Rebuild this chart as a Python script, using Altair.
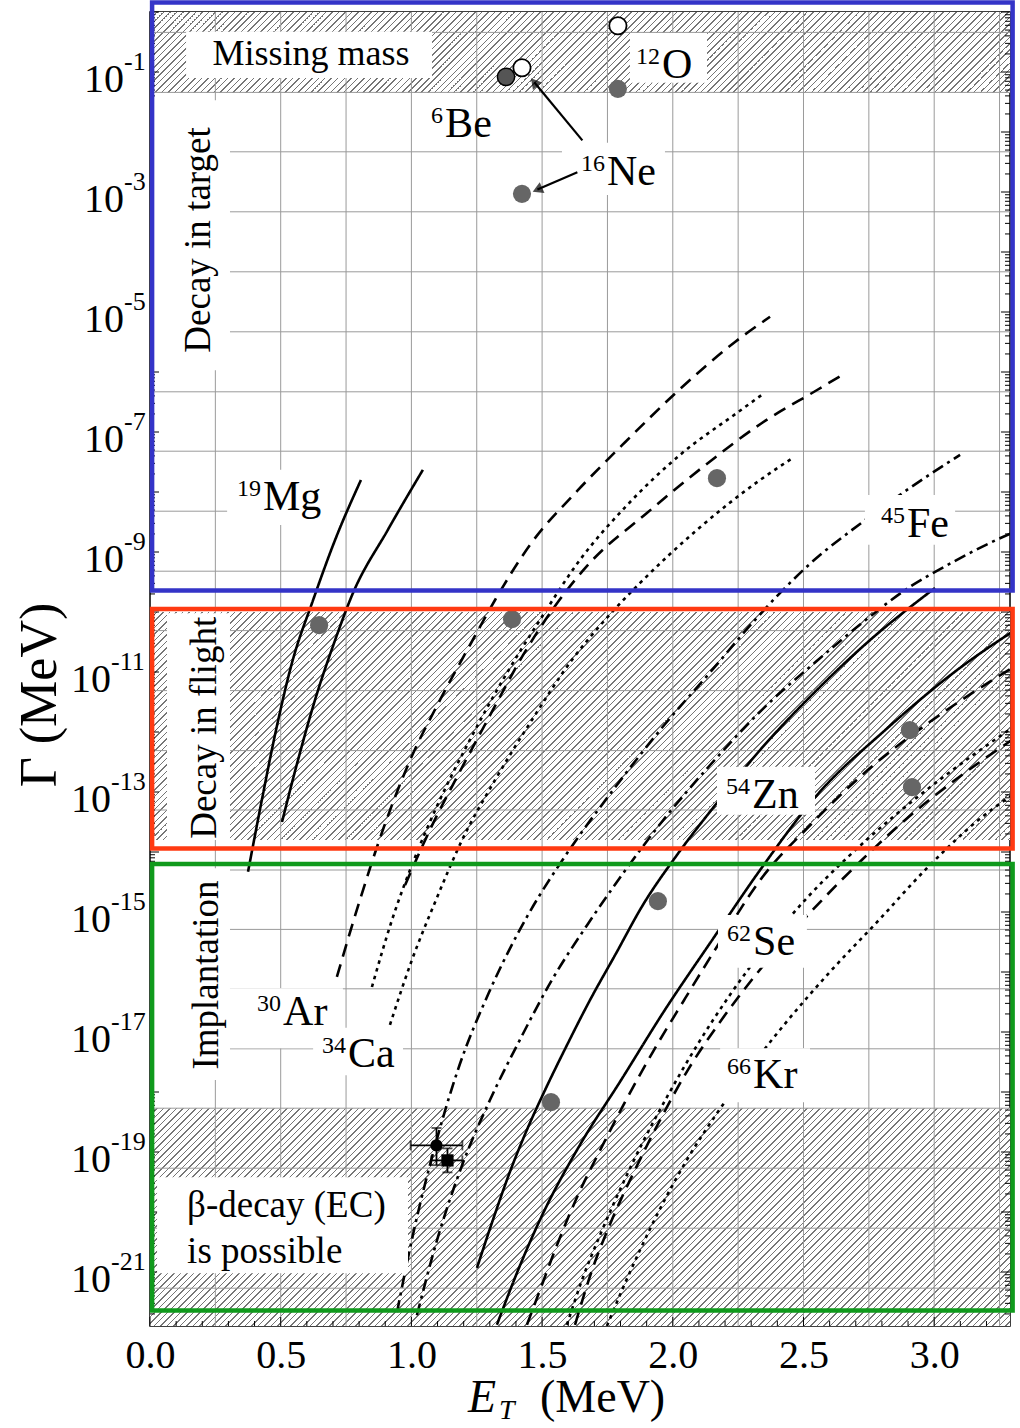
import math
import altair as alt
import pandas as pd

# ---- axis extents -------------------------------------------------------
E_MIN, E_MAX = 0.0, 3.29          # E_T in MeV
LG_MIN, LG_MAX = -21.9, 0.0       # log10 of Gamma in MeV
W, H = 860, 1314
SERIF = "Liberation Serif"


def gamma(lg):
    """log10(Gamma) -> Gamma in MeV"""
    return 10.0 ** lg


# ---- calculated widths (E_T in MeV, log10 Gamma) -----------------------
MG19_A_E = [0.375, 0.428, 0.482, 0.543, 0.624, 0.708, 0.807]
MG19_A_LG = [-14.33, -13.13, -11.97, -10.85, -9.80, -8.80, -7.80]
MG19_B_E = [0.505, 0.566, 0.631, 0.708, 0.773, 0.910, 1.044]
MG19_B_LG = [-13.50, -12.47, -11.47, -10.47, -9.72, -8.63, -7.63]

AR30_A_E = [0.715, 0.803, 0.891, 0.995, 1.109, 1.224, 1.320, 1.454, 1.637, 1.806, 2.016, 2.238, 2.372]
AR30_A_LG = [-16.08, -14.80, -13.63, -12.47, -11.47, -10.55, -9.80, -8.88, -7.97, -7.22, -6.33, -5.50, -5.08]
AR30_B_E = [0.976, 1.071, 1.178, 1.301, 1.427, 1.553, 1.683, 1.901, 2.116, 2.341, 2.552, 2.659]
AR30_B_LG = [-14.55, -13.63, -12.72, -11.72, -10.72, -9.88, -9.18, -8.35, -7.58, -6.85, -6.30, -6.02]

CA34_A_E = [0.849, 0.926, 1.010, 1.109, 1.224, 1.350, 1.492, 1.645, 1.825, 2.028, 2.246, 2.341]
CA34_A_LG = [-16.25, -15.13, -14.13, -13.13, -12.13, -11.13, -10.13, -9.13, -8.22, -7.38, -6.68, -6.38]
CA34_B_E = [0.918, 1.002, 1.094, 1.194, 1.320, 1.461, 1.614, 1.741, 1.874, 2.093, 2.334, 2.460]
CA34_B_LG = [-16.88, -15.80, -14.80, -13.80, -12.80, -11.80, -10.80, -10.13, -9.52, -8.63, -7.80, -7.43]

FE45_A_E = [0.945, 1.010, 1.086, 1.178, 1.301, 1.446, 1.591, 1.771, 1.951, 2.150, 2.315, 2.422,
            2.529, 2.720, 2.911, 3.099]
FE45_A_LG = [-21.67, -20.30, -18.97, -17.63, -16.30, -15.05, -14.05, -12.97, -11.97, -10.97, -10.13, -9.63,
             -9.18, -8.52, -7.92, -7.38]
FE45_B_E = [1.021, 1.098, 1.194, 1.301, 1.415, 1.538, 1.672, 1.806, 1.963, 2.143, 2.341, 2.555,
            2.739, 2.907, 3.037, 3.213, 3.298]
FE45_B_LG = [-21.72, -20.47, -19.22, -18.13, -17.13, -16.13, -15.22, -14.38, -13.47, -12.55, -11.63, -10.80,
             -10.13, -9.58, -9.25, -8.85, -8.68]

ZN54_A_E = [1.251, 1.312, 1.377, 1.442, 1.511, 1.595, 1.683, 1.779, 1.886, 2.016, 2.162, 2.334,
            2.533, 2.754, 3.003]
ZN54_A_LG = [-20.93, -20.13, -19.33, -18.63, -17.97, -17.22, -16.47, -15.72, -14.88, -14.05, -13.22, -12.30,
             -11.38, -10.47, -9.60]
ZN54_B_E = [1.327, 1.408, 1.492, 1.645, 1.798, 1.970, 2.150, 2.334, 2.552, 2.812, 3.099, 3.298]
ZN54_B_LG = [-21.88, -20.97, -20.13, -18.88, -17.83, -16.63, -15.47, -14.30, -13.05, -11.97, -10.93, -10.33]

SE62_A_E = [1.442, 1.492, 1.557, 1.637, 1.722, 1.817, 1.924, 2.043, 2.173, 2.334, 2.533, 2.747,
            2.984, 3.298]
SE62_A_LG = [-21.88, -21.30, -20.55, -19.72, -18.97, -18.17, -17.33, -16.47, -15.55, -14.47, -13.52, -12.63,
             -11.83, -10.93]
SE62_B_E = [1.626, 1.691, 1.767, 1.855, 1.951, 2.058, 2.173, 2.295, 2.429, 2.571, 2.724, 2.888,
            3.080, 3.298]
SE62_B_LG = [-21.88, -20.97, -20.13, -19.30, -18.47, -17.63, -16.88, -16.17, -15.47, -14.80, -14.13, -13.47,
             -12.80, -12.13]

KR66_A_E = [1.595, 1.653, 1.722, 1.798, 1.886, 1.982, 2.093, 2.219, 2.360, 2.506, 2.666, 2.839,
            3.041, 3.298]
KR66_A_LG = [-21.88, -21.13, -20.38, -19.63, -18.83, -18.05, -17.22, -16.38, -15.55, -14.80, -14.10, -13.43,
             -12.73, -11.93]
KR66_B_E = [1.748, 1.806, 1.875, 1.959, 2.054, 2.165, 2.295, 2.441, 2.601, 2.781, 2.972, 3.168, 3.298]
KR66_B_LG = [-21.90, -21.30, -20.63, -19.88, -19.13, -18.38, -17.60, -16.80, -16.00, -15.17, -14.27, -13.47,
             -13.05]

CURVES = [
    ("19Mg a", "solid", MG19_A_E, MG19_A_LG), ("19Mg b", "solid", MG19_B_E, MG19_B_LG),
    ("30Ar a", "dash", AR30_A_E, AR30_A_LG), ("30Ar b", "dash", AR30_B_E, AR30_B_LG),
    ("34Ca a", "dot", CA34_A_E, CA34_A_LG), ("34Ca b", "dot", CA34_B_E, CA34_B_LG),
    ("45Fe a", "dashdot", FE45_A_E, FE45_A_LG), ("45Fe b", "dashdot", FE45_B_E, FE45_B_LG),
    ("54Zn a", "solid", ZN54_A_E, ZN54_A_LG), ("54Zn b", "solid", ZN54_B_E, ZN54_B_LG),
    ("62Se a", "dash", SE62_A_E, SE62_A_LG), ("62Se b", "dash", SE62_B_E, SE62_B_LG),
    ("66Kr a", "dot", KR66_A_E, KR66_A_LG), ("66Kr b", "dot", KR66_B_E, KR66_B_LG),
]
DASHES = {"solid": [1, 0], "dash": [13, 8], "dot": [3.5, 4.5], "dashdot": [12, 5, 3, 5]}

# ---- measured widths ----------------------------------------------------
GRAY_E = [1.790, 1.423, 2.169, 0.647, 1.385, 2.907, 2.915, 1.943, 1.534]
GRAY_LG = [-1.28, -3.03, -7.77, -10.22, -10.12, -11.97, -12.92, -14.82, -18.17]
OPEN_E = [1.423, 1.790]
OPEN_LG = [-0.93, -0.23]
BE6_E = [1.362]
BE6_LG = [-1.08]
# points with error bars
ERR_E = [1.096, 1.138]
ERR_E_LO = [0.997, 1.076]
ERR_E_HI = [1.195, 1.195]
ERR_LG = [-18.89, -19.14]
ERR_LG_LO = [-19.22, -19.34]
ERR_LG_HI = [-18.60, -18.94]

# ---- regions ------------------------------------------------------------
HATCH_LO = [-1.35, -13.80, LG_MIN]
HATCH_HI = [LG_MAX, -10.00, -18.27]
FRAME_COLORS = ["#3434c8", "#ff3a12", "#109a1c"]
FRAME_E = [0.008, 3.300]
FRAME_LG_TOP = [0.16, -9.95, -14.20]
FRAME_LG_BOT = [-9.64, -13.94, -21.64]

GRID_E = [0.25, 0.5, 0.75, 1.0, 1.25, 1.5, 1.75, 2.0, 2.25, 2.5, 2.75, 3.0, 3.25]
GRID_LG = [-0.34, -1.34, -2.33, -3.33, -4.33, -5.33, -6.33, -7.32, -8.32, -9.32, -10.31,
           -11.31, -12.31, -13.3, -14.3, -15.29, -16.28, -17.28, -18.27, -19.27, -20.27, -21.27]

# white label backings (E_lo, E_hi, lg_top, lg_bottom)
BOX_E_LO = [0.138, 1.836, 0.000, 0.065, 0.000, 0.027, 2.169, 2.173, 2.181, 0.306, 0.624, 2.735, 0.295, 1.576]
BOX_E_HI = [1.079, 2.131, 0.306, 0.306, 0.306, 0.987, 2.544, 2.513, 2.525, 0.738, 0.968, 3.080, 0.727, 1.970]
BOX_LG_TOP = [-0.33, -0.35, -1.47, -10.02, -14.27, -19.42, -12.58, -15.05, -17.27, -16.27, -16.93, -8.05, -7.63, -2.18]
BOX_LG_BOT = [-1.10, -1.18, -5.97, -13.80, -17.80, -21.02, -13.38, -15.93, -18.17, -17.27, -17.72, -8.88, -8.55, -3.05]

# nucleus labels: element symbol (left edge, baseline) and mass number
NUC_SYM = ["O", "Be", "Ne", "Mg", "Fe", "Zn", "Se", "Kr", "Ar", "Ca"]
NUC_A = ["12", "6", "16", "19", "45", "54", "62", "66", "30", "34"]
NUC_E = [1.959, 1.129, 1.748, 0.432, 2.896, 2.303, 2.307, 2.307, 0.509, 0.757]
NUC_LG = [-1.10, -2.08, -2.88, -8.30, -8.75, -13.27, -15.72, -17.93, -16.88, -17.58]

# arrows from the 16Ne label to its two points
ARROW_E0 = [1.654, 1.635]
ARROW_LG0 = [-2.14, -2.67]
ARROW_E1 = [1.470, 1.482]
ARROW_LG1 = [-1.17, -2.96]

XS = alt.Scale(domain=[E_MIN, E_MAX], nice=False, zero=False)
YS = alt.Scale(type="log", domain=[gamma(LG_MIN), gamma(LG_MAX)], nice=False)
XAXIS = alt.Axis(values=[0.0, 0.5, 1.0, 1.5, 2.0, 2.5, 3.0], format=".1f", title=None,
                 labelFont=SERIF, labelFontSize=40, labelColor="black", labelPadding=9,
                 ticks=False, domain=False, grid=False, labelFlush=False)


def xq(f):
    return alt.X(f, type="quantitative", scale=XS, axis=XAXIS)


def yq(f):
    return alt.Y(f, type="quantitative", scale=YS, axis=None)


def px(e, lg):
    return ((e - E_MIN) / (E_MAX - E_MIN) * W, (LG_MAX - lg) / (LG_MAX - LG_MIN) * H)


def hatch(h_px, w_px=W, period=6.5, lw=1.5, ink="#767676", paper="#ffffff"):
    """Diagonal '/' hatching as a striped linear gradient across the band."""
    length = w_px + h_px
    stops = []
    k = 0
    while k * period < length:
        a = k * period / length
        b = min((k * period + lw) / length, 1.0)
        c = min((k + 1) * period / length, 1.0)
        stops += [alt.GradientStop(offset=a, color=ink), alt.GradientStop(offset=b, color=ink),
                  alt.GradientStop(offset=b, color=paper), alt.GradientStop(offset=c, color=paper)]
        k += 1
    s = length / (w_px ** 2 + h_px ** 2)
    return alt.LinearGradient(gradient="linear", stops=stops, x1=0, y1=0, x2=w_px * s, y2=h_px * s)


layers = []

# hatched bands
for lo, hi in zip(HATCH_LO, HATCH_HI):
    band_h = (hi - lo) / (LG_MAX - LG_MIN) * H
    df = pd.DataFrame({"E": [E_MIN], "E2": [E_MAX], "G": [gamma(hi)], "G2": [gamma(lo)]})
    layers.append(alt.Chart(df).mark_rect(fill=hatch(band_h), strokeWidth=0).encode(
        x=xq("E"), x2="E2", y=yq("G"), y2="G2"))

# grid
layers.append(alt.Chart(pd.DataFrame({"E": GRID_E})).mark_rule(color="#9a9a9a", strokeWidth=1).encode(x=xq("E")))
layers.append(alt.Chart(pd.DataFrame({"G": [gamma(v) for v in GRID_LG]})).mark_rule(
    color="#9a9a9a", strokeWidth=1).encode(y=yq("G")))

# inward ticks on left / right / bottom
major = [gamma(k) for k in range(-21, 1)]
minor = [m * gamma(k) for k in range(-22, 0) for m in range(2, 10) if gamma(LG_MIN) <= m * gamma(k) <= 1]
for vals, ln in ((major, 9), (minor, 5)):
    tdf = pd.DataFrame({"G": vals})
    layers.append(alt.Chart(tdf).mark_rule(color="black", strokeWidth=1).encode(
        x=alt.value(0), x2=alt.value(ln), y=yq("G")))
    layers.append(alt.Chart(tdf).mark_rule(color="black", strokeWidth=1).encode(
        x=alt.value(W), x2=alt.value(W - ln), y=yq("G")))
xmaj = [0.5 * i for i in range(0, 7)]
xmin = [0.1 * i for i in range(0, 33) if i % 5]
for vals, ln in ((xmaj, 9), (xmin, 5)):
    layers.append(alt.Chart(pd.DataFrame({"E": vals})).mark_rule(color="black", strokeWidth=1).encode(
        x=xq("E"), y=alt.value(H), y2=alt.value(H - ln)))

# curves
rows = []
for name, style, es, lgs in CURVES:
    for e, lg in zip(es, lgs):
        rows.append({"curve": name, "style": style, "E": e, "G": gamma(lg)})
layers.append(alt.Chart(pd.DataFrame(rows)).mark_line(
    color="black", strokeWidth=2.6, interpolate="monotone", clip=True).encode(
    x=xq("E"), y=yq("G"), detail="curve:N",
    strokeDash=alt.StrokeDash("style:N", scale=alt.Scale(domain=list(DASHES), range=list(DASHES.values())),
                              legend=None)))

# white label backings
box_df = pd.DataFrame({"E": BOX_E_LO, "E2": BOX_E_HI,
                       "G": [gamma(v) for v in BOX_LG_TOP], "G2": [gamma(v) for v in BOX_LG_BOT]})
layers.append(alt.Chart(box_df).mark_rect(color="white").encode(x=xq("E"), x2="E2", y=yq("G"), y2="G2"))

# arrows
arr_df = pd.DataFrame({"E": ARROW_E0, "E2": ARROW_E1,
                       "G": [gamma(v) for v in ARROW_LG0], "G2": [gamma(v) for v in ARROW_LG1]})
layers.append(alt.Chart(arr_df).mark_rule(color="black", strokeWidth=2.2).encode(
    x=xq("E"), x2="E2", y=yq("G"), y2="G2"))
angles = []
for e0, l0, e1, l1 in zip(ARROW_E0, ARROW_LG0, ARROW_E1, ARROW_LG1):
    x0, y0 = px(e0, l0)
    x1, y1 = px(e1, l1)
    angles.append((math.degrees(math.atan2(x1 - x0, -(y1 - y0))) + 360) % 360)
head_df = pd.DataFrame({"E": ARROW_E1, "G": [gamma(v) for v in ARROW_LG1], "ang": angles})
layers.append(alt.Chart(head_df).mark_point(shape="triangle-up", filled=True, color="black", size=140).encode(
    x=xq("E"), y=yq("G"), angle=alt.Angle("ang:Q", scale=None)))

# error bars
err_df = pd.DataFrame({"E": ERR_E, "Elo": ERR_E_LO, "Ehi": ERR_E_HI,
                       "G": [gamma(v) for v in ERR_LG], "Glo": [gamma(v) for v in ERR_LG_LO],
                       "Ghi": [gamma(v) for v in ERR_LG_HI], "kind": ["circle", "square"]})
layers.append(alt.Chart(err_df).mark_rule(color="black", strokeWidth=1.8).encode(
    x=xq("Elo"), x2="Ehi", y=yq("G")))
layers.append(alt.Chart(err_df).mark_rule(color="black", strokeWidth=1.8).encode(
    x=xq("E"), y=yq("Glo"), y2="Ghi"))
cap_x = pd.DataFrame({"E": ERR_E_LO + ERR_E_HI, "G": [gamma(v) for v in ERR_LG] * 2})
cap_y = pd.DataFrame({"E": ERR_E * 2, "G": [gamma(v) for v in ERR_LG_LO + ERR_LG_HI]})
layers.append(alt.Chart(cap_x).mark_tick(color="black", orient="vertical", size=10, thickness=1.8).encode(
    x=xq("E"), y=yq("G")))
layers.append(alt.Chart(cap_y).mark_tick(color="black", orient="horizontal", size=10, thickness=1.8).encode(
    x=xq("E"), y=yq("G")))
layers.append(alt.Chart(err_df).mark_point(filled=True, color="black", opacity=1, size=150).encode(
    x=xq("E"), y=yq("G"), shape=alt.Shape("kind:N", scale=None)))

# measured points
gray_df = pd.DataFrame({"E": GRAY_E, "G": [gamma(v) for v in GRAY_LG]})
layers.append(alt.Chart(gray_df).mark_circle(color="#666666", opacity=1, size=330).encode(x=xq("E"), y=yq("G")))
be_df = pd.DataFrame({"E": BE6_E, "G": [gamma(v) for v in BE6_LG]})
layers.append(alt.Chart(be_df).mark_point(filled=True, fill="#555555", stroke="black", strokeWidth=1.5,
                                          opacity=1, size=300).encode(x=xq("E"), y=yq("G")))
open_df = pd.DataFrame({"E": OPEN_E, "G": [gamma(v) for v in OPEN_LG]})
layers.append(alt.Chart(open_df).mark_point(filled=True, fill="white", stroke="black", strokeWidth=1.8,
                                            opacity=1, size=300).encode(x=xq("E"), y=yq("G")))

# nucleus labels
nuc_df = pd.DataFrame({"E": NUC_E, "G": [gamma(v) for v in NUC_LG], "sym": NUC_SYM, "A": NUC_A})
layers.append(alt.Chart(nuc_df).mark_text(font=SERIF, fontSize=42, align="left", baseline="alphabetic",
                                          color="black").encode(x=xq("E"), y=yq("G"), text="sym:N"))
layers.append(alt.Chart(nuc_df).mark_text(font=SERIF, fontSize=24, align="right", baseline="alphabetic",
                                          dx=-2, dy=-14, color="black").encode(x=xq("E"), y=yq("G"), text="A:N"))

# region labels
reg_df = pd.DataFrame({"E": [0.616, 0.142, 0.142], "G": [gamma(-0.88), gamma(-20.08), gamma(-20.85)],
                       "t": ["Missing mass", "\u03b2-decay (EC)", "is possible"]})
layers.append(alt.Chart(reg_df.iloc[:1]).mark_text(font=SERIF, fontSize=36, align="center",
                                                   baseline="alphabetic").encode(x=xq("E"), y=yq("G"), text="t:N"))
layers.append(alt.Chart(reg_df.iloc[1:]).mark_text(font=SERIF, fontSize=37, align="left",
                                                   baseline="alphabetic").encode(x=xq("E"), y=yq("G"), text="t:N"))
rot_df = pd.DataFrame({"E": [0.230, 0.252, 0.260], "G": [gamma(-3.8), gamma(-11.93), gamma(-16.05)],
                       "t": ["Decay in target", "Decay in flight", "Implantation"]})
layers.append(alt.Chart(rot_df).mark_text(font=SERIF, fontSize=37, align="center", baseline="alphabetic",
                                          angle=270).encode(x=xq("E"), y=yq("G"), text="t:N"))

# frames of the three detection regimes
fr_df = pd.DataFrame({"E": [FRAME_E[0]] * 3, "E2": [FRAME_E[1]] * 3,
                      "G": [gamma(v) for v in FRAME_LG_TOP], "G2": [gamma(v) for v in FRAME_LG_BOT],
                      "c": FRAME_COLORS})
layers.append(alt.Chart(fr_df).mark_rect(filled=False, strokeWidth=4.5).encode(
    x=xq("E"), x2="E2", y=yq("G"), y2="G2", stroke=alt.Stroke("c:N", scale=None)))

# y tick labels 10^k (odd decades); one-digit and two-digit exponents sit differently
for exps, x_base in (([-1, -3, -5, -7, -9], -26), ([-11, -13, -15, -17, -19, -21], -39)):
    yl_df = pd.DataFrame({"G": [gamma(k) for k in exps], "b": ["10"] * len(exps),
                          "s": ["-%d" % -k for k in exps]})
    layers.append(alt.Chart(yl_df).mark_text(font=SERIF, fontSize=40, align="right", baseline="alphabetic",
                                             dy=20).encode(x=alt.value(x_base), y=yq("G"), text="b:N"))
    layers.append(alt.Chart(yl_df).mark_text(font=SERIF, fontSize=26, align="left", baseline="alphabetic",
                                             dy=-2).encode(x=alt.value(x_base), y=yq("G"), text="s:N"))

# axis titles
layers.append(alt.Chart(pd.DataFrame({"t": ["\u0393  (MeV)"]})).mark_text(
    font=SERIF, fontSize=52, angle=270, align="center", baseline="alphabetic").encode(
    x=alt.value(-94), y=alt.value(683), text="t:N"))
xt_df = pd.DataFrame({"t": ["E", "T", "(MeV)"], "x": [318, 349, 390], "y": [1400, 1407, 1400],
                      "fs": [46, 28, 46], "st": ["italic", "italic", "normal"]})
for i in range(3):
    layers.append(alt.Chart(xt_df.iloc[i:i + 1]).mark_text(
        font=SERIF, fontSize=int(xt_df.fs[i]), fontStyle=xt_df.st[i], align="left", baseline="alphabetic").encode(
        x=alt.value(int(xt_df.x[i])), y=alt.value(int(xt_df.y[i])), text="t:N"))

chart = alt.layer(*layers).properties(
    width=W, height=H,
    padding={"left": 150, "top": 12, "right": 10, "bottom": 102},
    autosize=alt.AutoSizeParams(type="none"),
    background="white",
).configure_view(stroke="black", strokeWidth=1.5)

chart.save("out.html", embed_options={"renderer": "svg", "actions": False})
